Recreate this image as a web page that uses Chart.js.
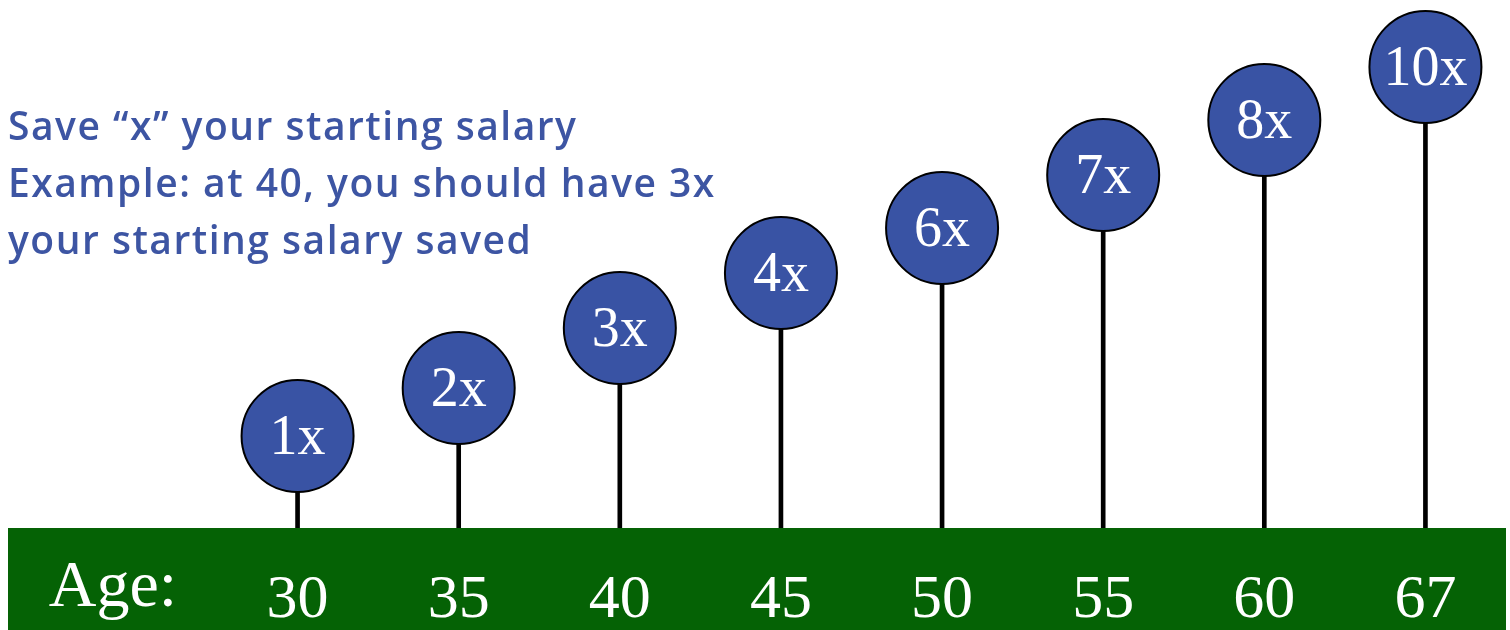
<!DOCTYPE html>
<html>
<head>
<meta charset="utf-8">
<script src="https://cdn.jsdelivr.net/npm/chart.js@4/dist/chart.umd.min.js"></script>
<style>
  body { margin: 0; background: #fff; }
  #wrap { position: relative; width: 1510px; height: 630px; }
  #note {
    position: absolute; left: 8px; top: 96px;
    font-family: 'Open Sans', Lato, sans-serif; font-size: 39px; line-height: 57px;
    color: #3d55a3; font-weight: 600; letter-spacing: 1.5px;
  }
</style>
</head>
<body>
<div id="wrap">
  <canvas id="savingsChart" width="1510" height="630"></canvas>
  <div id="note">Save “x” your starting salary<br>Example: at 40, you should have 3x<br>your starting salary saved</div>
</div>
<script>
// --- data ---
const ages = ['30', '35', '40', '45', '50', '55', '60', '67'];
const multiples = ['1x', '2x', '3x', '4x', '6x', '7x', '8x', '10x'];
// stem heights (steps are not proportional to the multiple)
const stemHeights = [92, 140, 200, 255, 300, 353, 408, 461];

const bandGreen = '#056205';
const dotBlue = '#3953a4';

// green band behind the age axis + "Age:" label
const bandPlugin = {
    id: 'band',
    beforeDraw(chart) {
        const ctx = chart.ctx;
        const x = chart.scales.x;
        ctx.save();
        ctx.fillStyle = bandGreen;
        ctx.fillRect(8, x.top, x.right - 8, x.bottom - x.top);
        ctx.fillStyle = '#fff';
        ctx.font = '66px "Liberation Serif"';
        ctx.textAlign = 'center';
        ctx.textBaseline = 'alphabetic';
        ctx.fillText('Age:', 113, 606);
        ctx.restore();
    }
};

// multiple labels inside circles
const dotLabels = {
    id: 'dotLabels',
    afterDatasetsDraw(chart) {
        const ctx = chart.ctx;
        const meta = chart.getDatasetMeta(1);
        ctx.save();
        ctx.fillStyle = '#fff';
        ctx.font = '56px "Liberation Serif"';
        ctx.textAlign = 'center';
        ctx.textBaseline = 'middle';
        meta.data.forEach(function (pt, i) {
            ctx.fillText(multiples[i], pt.x, pt.y + 3);
        });
        ctx.restore();
    }
};

document.addEventListener('DOMContentLoaded', function () {
    let ctx = document.getElementById('savingsChart').getContext('2d');

    new Chart(ctx, {
        data: {
            labels: ages,
            datasets: [
                {
                    type: 'bar',
                    data: stemHeights,
                    backgroundColor: '#000',
                    barThickness: 4,
                    order: 2
                },
                {
                    type: 'line',
                    data: stemHeights,
                    showLine: false,
                    pointRadius: 56,
                    pointHoverRadius: 56,
                    pointBackgroundColor: dotBlue,
                    pointBorderColor: '#000',
                    pointBorderWidth: 2,
                    clip: false,
                    order: 1
                }
            ]
        },
        options: {
            responsive: false,
            animation: false,
            layout: { autoPadding: false, padding: { left: 217, right: 4, top: 0, bottom: 0 } },
            scales: {
                x: {
                    grid: { display: false },
                    border: { display: false },
                    ticks: {
                        color: '#fff',
                        padding: 28,
                        maxRotation: 0,
                        font: { size: 62, family: 'Liberation Serif' }
                    },
                    afterFit: function (scale) { scale.height = 102; }
                },
                y: {
                    display: false,
                    min: 0,
                    max: 528
                }
            },
            plugins: {
                legend: { display: false },
                tooltip: { enabled: false }
            }
        },
        plugins: [bandPlugin, dotLabels]
    });
});
</script>
</body>
</html>
